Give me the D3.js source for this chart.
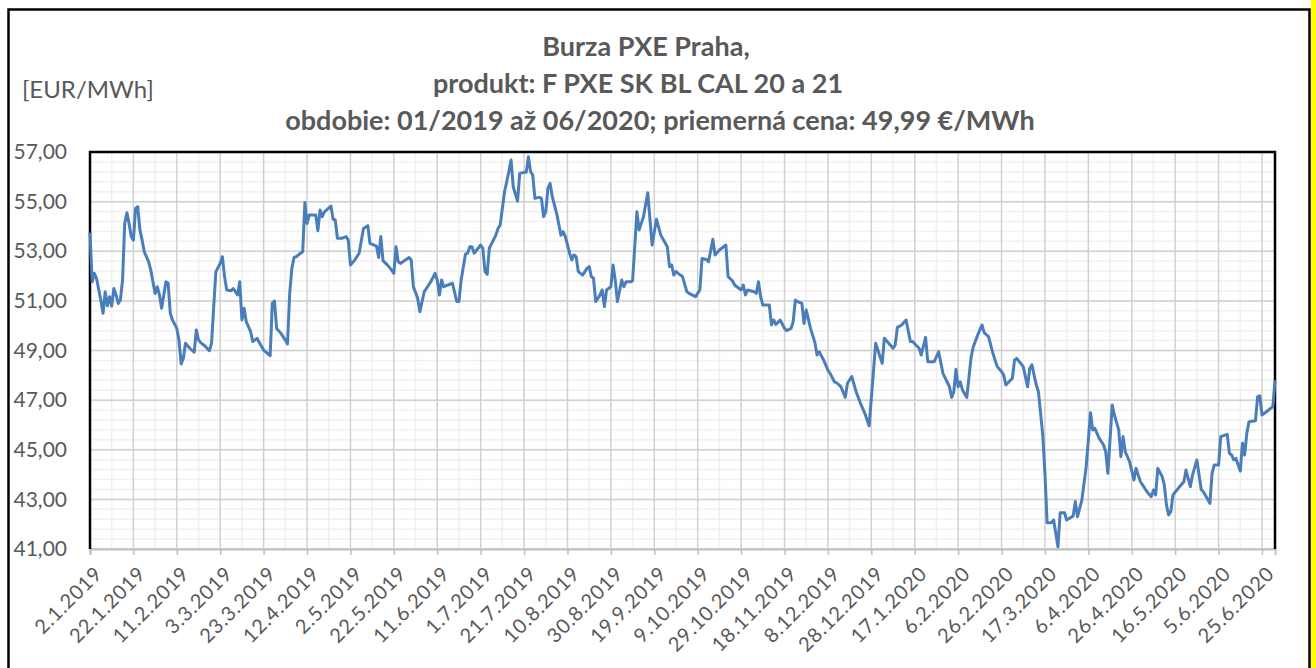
<!DOCTYPE html>
<html>
<head>
<meta charset="utf-8">
<script src="https://cdn.jsdelivr.net/npm/d3@7"></script>
<style>
  body { margin: 0; background: #fff; }
  svg text { font-family: Lato, "Open Sans", sans-serif; fill: #595959; }
</style>
</head>
<body>
<svg></svg>
<script>
var titleLines = [
  "Burza PXE Praha,",
  "produkt: F PXE SK BL CAL 20 a 21",
  "obdobie: 01/2019 až 06/2020; priemerná cena: 49,99 €/MWh"
];
var unitLabel = "[EUR/MWh]";
var yTicks = [41, 43, 45, 47, 49, 51, 53, 55, 57];
var xTickLabels = ["2.1.2019", "22.1.2019", "11.2.2019", "3.3.2019", "23.3.2019", "12.4.2019",
  "2.5.2019", "22.5.2019", "11.6.2019", "1.7.2019", "21.7.2019", "10.8.2019", "30.8.2019",
  "19.9.2019", "9.10.2019", "29.10.2019", "18.11.2019", "8.12.2019", "28.12.2019", "17.1.2020",
  "6.2.2020", "26.2.2020", "17.3.2020", "6.4.2020", "26.4.2020", "16.5.2020", "5.6.2020", "25.6.2020"];

// daily settlement, F PXE SK BL CAL
var dates = [
  "2019-01-02","2019-01-03","2019-01-04","2019-01-05","2019-01-07","2019-01-08","2019-01-09","2019-01-10",
  "2019-01-11","2019-01-12","2019-01-13","2019-01-14","2019-01-15","2019-01-16","2019-01-17","2019-01-18",
  "2019-01-19","2019-01-20","2019-01-21","2019-01-22","2019-01-23","2019-01-24","2019-01-25","2019-01-26",
  "2019-01-27","2019-01-29","2019-01-30","2019-02-01","2019-02-02","2019-02-03","2019-02-04","2019-02-06",
  "2019-02-07","2019-02-08","2019-02-09","2019-02-11","2019-02-12","2019-02-13","2019-02-14","2019-02-15",
  "2019-02-17","2019-02-19","2019-02-20","2019-02-21","2019-02-22","2019-02-24","2019-02-26","2019-02-27",
  "2019-02-28","2019-03-01","2019-03-03","2019-03-04","2019-03-05","2019-03-06","2019-03-08","2019-03-09",
  "2019-03-10","2019-03-11","2019-03-12","2019-03-13","2019-03-14","2019-03-15","2019-03-17","2019-03-18",
  "2019-03-20","2019-03-21","2019-03-23","2019-03-26","2019-03-27","2019-03-28","2019-03-29","2019-03-31",
  "2019-04-02","2019-04-03","2019-04-04","2019-04-05","2019-04-06","2019-04-07","2019-04-09","2019-04-10",
  "2019-04-11","2019-04-12","2019-04-13","2019-04-16","2019-04-17","2019-04-18","2019-04-19","2019-04-20",
  "2019-04-23","2019-04-24","2019-04-25","2019-04-26","2019-04-28","2019-04-30","2019-05-01","2019-05-02",
  "2019-05-04","2019-05-06","2019-05-08","2019-05-10","2019-05-11","2019-05-14","2019-05-15","2019-05-16",
  "2019-05-17","2019-05-19","2019-05-21","2019-05-22","2019-05-23","2019-05-24","2019-05-25","2019-05-29",
  "2019-05-30","2019-05-31","2019-06-02","2019-06-03","2019-06-05","2019-06-06","2019-06-08","2019-06-10",
  "2019-06-11","2019-06-12","2019-06-13","2019-06-14","2019-06-18","2019-06-20","2019-06-21","2019-06-22",
  "2019-06-24","2019-06-25","2019-06-26","2019-06-27","2019-06-28","2019-07-01","2019-07-02","2019-07-03",
  "2019-07-04","2019-07-05","2019-07-08","2019-07-09","2019-07-10","2019-07-12","2019-07-13","2019-07-14",
  "2019-07-15","2019-07-16","2019-07-18","2019-07-19","2019-07-21","2019-07-22","2019-07-23","2019-07-24",
  "2019-07-25","2019-07-26","2019-07-28","2019-07-29","2019-07-30","2019-07-31","2019-08-01","2019-08-02",
  "2019-08-03","2019-08-05","2019-08-07","2019-08-08","2019-08-09","2019-08-11","2019-08-12","2019-08-13",
  "2019-08-14","2019-08-15","2019-08-17","2019-08-19","2019-08-20","2019-08-21","2019-08-22","2019-08-23",
  "2019-08-25","2019-08-26","2019-08-27","2019-08-28","2019-08-30","2019-08-31","2019-09-01","2019-09-02",
  "2019-09-04","2019-09-05","2019-09-06","2019-09-08","2019-09-09","2019-09-11","2019-09-12","2019-09-14",
  "2019-09-16","2019-09-18","2019-09-20","2019-09-22","2019-09-25","2019-09-26","2019-09-27","2019-09-28",
  "2019-09-29","2019-10-01","2019-10-02","2019-10-04","2019-10-05","2019-10-08","2019-10-10","2019-10-11",
  "2019-10-13","2019-10-14","2019-10-16","2019-10-17","2019-10-19","2019-10-22","2019-10-23","2019-10-25",
  "2019-10-26","2019-10-29","2019-10-30","2019-10-31","2019-11-01","2019-11-04","2019-11-05","2019-11-06",
  "2019-11-07","2019-11-08","2019-11-11","2019-11-12","2019-11-13","2019-11-14","2019-11-16","2019-11-18",
  "2019-11-19","2019-11-21","2019-11-22","2019-11-23","2019-11-24","2019-11-26","2019-11-27","2019-11-28",
  "2019-11-30","2019-12-02","2019-12-03","2019-12-04","2019-12-06","2019-12-08","2019-12-09","2019-12-11",
  "2019-12-12","2019-12-14","2019-12-16","2019-12-17","2019-12-19","2019-12-21","2019-12-23","2019-12-25",
  "2019-12-27","2019-12-30","2020-01-02","2020-01-03","2020-01-07","2020-01-08","2020-01-09","2020-01-11",
  "2020-01-13","2020-01-15","2020-01-16","2020-01-19","2020-01-20","2020-01-22","2020-01-23","2020-01-26",
  "2020-01-28","2020-01-30","2020-02-02","2020-02-03","2020-02-04","2020-02-05","2020-02-06","2020-02-07",
  "2020-02-08","2020-02-10","2020-02-12","2020-02-13","2020-02-15","2020-02-17","2020-02-18","2020-02-20",
  "2020-02-22","2020-02-24","2020-02-26","2020-02-27","2020-02-28","2020-03-02","2020-03-03","2020-03-04",
  "2020-03-07","2020-03-09","2020-03-10","2020-03-11","2020-03-13","2020-03-14","2020-03-15","2020-03-16",
  "2020-03-17","2020-03-18","2020-03-20","2020-03-21","2020-03-23","2020-03-24","2020-03-26","2020-03-27",
  "2020-03-30","2020-03-31","2020-04-01","2020-04-03","2020-04-05","2020-04-06","2020-04-07","2020-04-08",
  "2020-04-09","2020-04-11","2020-04-13","2020-04-14","2020-04-15","2020-04-17","2020-04-18","2020-04-20",
  "2020-04-21","2020-04-22","2020-04-23","2020-04-25","2020-04-27","2020-04-28","2020-04-30","2020-05-03",
  "2020-05-05","2020-05-06","2020-05-07","2020-05-08","2020-05-10","2020-05-11","2020-05-12","2020-05-13",
  "2020-05-14","2020-05-15","2020-05-18","2020-05-20","2020-05-21","2020-05-22","2020-05-23","2020-05-24",
  "2020-05-26","2020-05-28","2020-05-29","2020-06-01","2020-06-02","2020-06-03","2020-06-05","2020-06-06",
  "2020-06-09","2020-06-10","2020-06-11","2020-06-12","2020-06-13","2020-06-15","2020-06-16","2020-06-17",
  "2020-06-18","2020-06-19","2020-06-22","2020-06-23","2020-06-24","2020-06-25","2020-06-27","2020-06-30",
  "2020-07-01"
];
var prices = [
  53.75,51.77,52.11,51.91,51.03,50.50,51.37,50.80,
  51.17,50.79,51.50,51.24,50.90,51.03,51.84,54.12,
  54.55,54.12,53.59,53.45,54.73,54.80,53.86,53.45,
  52.98,52.58,52.24,51.30,51.57,51.24,50.70,51.77,
  51.71,50.50,50.23,49.89,49.42,48.46,48.68,49.29,
  49.09,48.93,49.83,49.42,49.32,49.18,48.99,49.29,
  50.77,52.18,52.51,52.78,51.98,51.44,51.41,51.50,
  51.37,51.24,51.77,50.23,50.70,50.16,49.76,49.36,
  49.49,49.32,49.02,48.79,50.90,50.99,49.89,49.69,
  49.42,49.26,51.30,52.31,52.75,52.78,52.92,52.98,
  54.96,54.12,54.46,54.46,53.83,54.66,54.39,54.59,
  54.82,54.29,54.26,53.52,53.52,53.59,53.45,52.45,
  52.65,52.92,53.92,54.03,53.32,53.21,52.75,53.59,
  52.62,52.45,52.24,52.11,53.18,52.58,52.51,52.75,
  52.65,51.57,51.10,50.56,51.37,51.50,51.77,52.11,
  51.84,51.24,51.84,51.57,51.71,50.97,50.97,51.84,
  52.88,52.92,53.18,53.18,52.92,53.25,53.12,52.18,
  52.07,53.12,53.65,53.92,54.06,55.40,55.80,56.21,
  56.68,55.60,55.02,56.14,56.18,56.18,56.81,56.21,
  56.07,55.13,55.17,55.13,54.39,54.59,55.54,55.74,
  55.20,54.53,53.65,53.79,53.59,52.92,52.65,52.85,
  52.78,52.18,52.04,52.31,52.38,51.98,51.91,50.97,
  51.24,51.44,50.77,51.44,51.57,52.45,51.84,50.97,
  51.84,51.57,51.77,51.77,51.81,54.59,53.86,54.39,
  55.36,53.25,54.29,53.65,53.18,52.38,52.45,52.04,
  52.18,52.04,51.98,51.37,51.30,51.17,51.44,52.71,
  52.67,52.58,53.48,52.85,53.05,53.25,51.98,51.81,
  51.64,51.44,51.64,51.24,51.44,51.37,51.30,51.77,
  51.17,50.83,50.83,50.03,50.23,50.05,50.23,49.89,
  49.80,49.89,50.16,51.03,50.97,50.90,50.09,50.63,
  49.89,49.32,48.82,48.95,48.62,48.21,48.08,47.74,
  47.70,47.54,47.11,47.68,47.95,47.34,46.87,46.47,
  45.96,49.29,48.48,49.49,49.09,49.22,49.93,50.03,
  50.23,49.36,49.36,49.09,48.82,49.53,48.55,48.55,
  48.95,48.08,47.54,47.11,47.34,48.24,47.54,47.74,
  47.41,47.11,48.75,49.15,49.62,50.03,49.72,49.56,
  48.89,48.35,48.15,48.01,47.61,47.88,48.62,48.68,
  48.35,47.54,48.28,48.42,47.61,47.34,46.47,45.59,
  44.05,42.06,42.06,42.17,41.09,42.46,42.46,42.17,
  42.33,42.91,42.30,42.97,44.32,45.39,46.49,45.80,
  45.86,45.46,45.19,44.92,44.05,46.80,46.40,45.80,
  44.72,45.53,44.92,44.52,43.78,44.25,43.71,43.31,
  43.11,43.38,43.18,44.25,43.92,43.58,42.77,42.37,
  42.50,43.18,43.51,43.71,44.18,43.85,43.51,43.98,
  44.59,43.40,43.31,42.84,44.05,44.39,44.39,45.53,
  45.62,44.86,44.79,44.59,44.65,44.14,45.26,44.79,
  45.66,46.13,46.17,47.14,47.17,46.40,46.53,46.74,
  47.81
];

var w = 1316, h = 668;
var plot = {left: 90, top: 152, right: 1275, bottom: 549};

var parseIso = d3.utcParse("%Y-%m-%d");
var parseTick = d3.utcParse("%d.%m.%Y");
var series = dates.map((d, i) => ({date: parseIso(d), value: prices[i]}));
var tickDates = xTickLabels.map(parseTick);

var svg = d3.select("svg").attr("width", w).attr("height", h);

svg.append("rect").attr("width", w).attr("height", h).attr("fill", "#fff");
// yellow strip at the right edge + outer frame
svg.append("rect").attr("x", 1311).attr("y", 0).attr("width", 5).attr("height", h).attr("fill", "#ffff00");
svg.append("rect")
    .attr("x", 8.5).attr("y", 9.5)
    .attr("width", 1309.5 - 8.5).attr("height", h + 20)
    .attr("fill", "none").attr("stroke", "#000").attr("stroke-width", 2.5);

var x = d3.scaleUtc()
    .domain([parseIso("2019-01-02"), parseIso("2020-07-01")])
    .range([plot.left, plot.right]);
var y = d3.scaleLinear().domain([41, 57]).range([plot.bottom, plot.top]);

var grid = svg.append("g").attr("class", "grid");

// minor grid: 0.4 EUR and 10 days
grid.selectAll(".minor-y").data(d3.range(0, 41).map(i => 41 + i * 0.4)).enter()
    .append("line")
    .attr("x1", plot.left).attr("x2", plot.right)
    .attr("y1", d => y(d)).attr("y2", d => y(d))
    .attr("stroke", "#f0f0f0").attr("stroke-width", 1.5);
var minorX = tickDates.map(t => d3.utcDay.offset(t, 10)).filter(t => t < x.domain()[1]);
grid.selectAll(".minor-x").data(minorX).enter()
    .append("line")
    .attr("x1", d => x(d)).attr("x2", d => x(d))
    .attr("y1", plot.top).attr("y2", plot.bottom)
    .attr("stroke", "#f0f0f0").attr("stroke-width", 1.5);

// major grid
grid.selectAll(".major-y").data(yTicks).enter()
    .append("line")
    .attr("x1", plot.left).attr("x2", plot.right)
    .attr("y1", d => y(d)).attr("y2", d => y(d))
    .attr("stroke", "#d0d0d0").attr("stroke-width", 1.5);
grid.selectAll(".major-x").data(tickDates).enter()
    .append("line")
    .attr("x1", d => x(d)).attr("x2", d => x(d))
    .attr("y1", plot.top).attr("y2", plot.bottom)
    .attr("stroke", "#d0d0d0").attr("stroke-width", 1.5);

// x axis
var xAxis = svg.append("g")
    .attr("transform", "translate(0," + plot.bottom + ")")
    .call(d3.axisBottom(x).tickValues(tickDates).tickSize(6).tickFormat((d, i) => xTickLabels[i]));
xAxis.select(".domain").attr("stroke", "#bfbfbf").attr("stroke-width", 2);
xAxis.selectAll(".tick line").attr("stroke", "#bfbfbf").attr("stroke-width", 1.5);
xAxis.selectAll(".tick text")
    .attr("text-anchor", "end")
    .attr("font-size", 20)
    .attr("letter-spacing", 0.8)
    .attr("fill", "#595959")
    .attr("x", 0).attr("y", 0).attr("dy", "0.35em")
    .attr("transform", "translate(8,21) rotate(-45)");

// y axis
var yAxis = svg.append("g")
    .attr("transform", "translate(" + plot.left + ",0)")
    .call(d3.axisLeft(y).tickValues(yTicks).tickSize(0).tickPadding(23)
        .tickFormat(d => d3.format(".2f")(d).replace(".", ",")));
yAxis.select(".domain").remove();
yAxis.selectAll(".tick text").attr("font-size", 21).attr("fill", "#595959");

// plot area border (top, left, right)
svg.append("path")
    .attr("d", "M" + plot.left + "," + plot.bottom + "V" + plot.top + "H" + plot.right + "V" + plot.bottom)
    .attr("fill", "none").attr("stroke", "#000").attr("stroke-width", 2.5);

// price line
var line = d3.line().x(d => x(d.date)).y(d => y(d.value));
svg.append("path")
    .datum(series)
    .attr("d", line)
    .attr("fill", "none")
    .attr("stroke", "#4a7ebb")
    .attr("stroke-width", 3)
    .attr("stroke-linejoin", "round");

// titles
var titleX = [646, 638, 660];
svg.selectAll(".title").data(titleLines).enter()
    .append("text")
    .attr("x", (d, i) => titleX[i])
    .attr("y", (d, i) => 56 + i * 37)
    .attr("text-anchor", "middle")
    .attr("font-size", 27)
    .attr("font-weight", "bold")
    .text(d => d);

svg.append("text")
    .attr("x", 22).attr("y", 98)
    .attr("font-size", 24)
    .text(unitLabel);
</script>
</body>
</html>
